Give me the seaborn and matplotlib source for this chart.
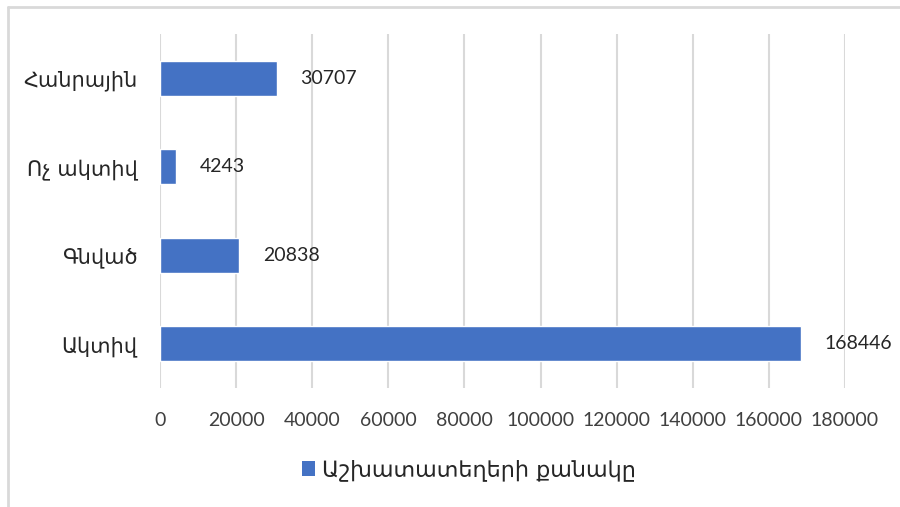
import matplotlib
matplotlib.use("Agg")
import matplotlib.pyplot as plt
import pandas as pd
import seaborn as sns
from matplotlib.lines import Line2D
from matplotlib.patches import Patch

# Data (top to bottom as drawn)
categories = ["Հանրային", "Ոչ ակտիվ", "Գնված", "Ակտիվ"]
values = [30707, 4243, 20838, 168446]
series_name = "Աշխատատեղերի քանակը"
x_ticks = [0, 20000, 40000, 60000, 80000, 100000, 120000, 140000, 160000, 180000]

BAR_COLOR = "#4472C4"
GRID_COLOR = "#d9d9d9"
ARM_FONT = ["DejaVu Sans"]
NUM_FONT = ["Lato", "DejaVu Sans"]

sns.set_style("white")

df = pd.DataFrame({"category": categories, "value": values})

fig = plt.figure(figsize=(9, 5.07), dpi=100)
ax = fig.add_axes([160 / 900, 1 - 388 / 507, (845 - 160) / 900, (388 - 34) / 507])

sns.barplot(data=df, x="value", y="category", orient="h", color=BAR_COLOR,
            width=0.39, saturation=1, ax=ax, order=categories)

ax.set_xlim(0, 180000)
ax.set_ylim(3.5, -0.5)
ax.set_xticks(x_ticks)
ax.set_xticklabels([str(t) for t in x_ticks], family=NUM_FONT, fontsize=14,
                   color="#404040")
ax.set_yticklabels(categories, family=ARM_FONT, fontsize=15, color="#262626")
ax.tick_params(axis="x", length=0, pad=17)
ax.tick_params(axis="y", length=0, pad=16)
ax.set_xlabel("")
ax.set_ylabel("")

ax.xaxis.grid(True, color=GRID_COLOR, linewidth=1.5)
ax.yaxis.grid(False)
ax.set_axisbelow(True)
for s in ax.spines.values():
    s.set_visible(False)

for cont in ax.containers:
    labels = ax.bar_label(cont, labels=[str(v) for v in values], padding=17,
                          family=NUM_FONT, fontsize=14, color="#262626")
    for t in labels:
        t.set_va("center")

# legend
handles = [Patch(facecolor=BAR_COLOR, edgecolor="none", label=series_name)]
leg = fig.legend(handles=handles, loc="center", bbox_to_anchor=(469 / 900, 1 - 470 / 507),
                 frameon=False, handlelength=0.6, handleheight=0.7, handletextpad=0.3,
                 prop={"family": ARM_FONT, "size": 16})

# chart area border (left and top only visible)
fig.add_artist(Line2D([8 / 900, 8 / 900], [0, 1 - 7 / 507], color=GRID_COLOR, lw=2))
fig.add_artist(Line2D([8 / 900, 1], [1 - 7 / 507, 1 - 7 / 507], color=GRID_COLOR, lw=2))

fig.savefig("out.png", dpi=100)
